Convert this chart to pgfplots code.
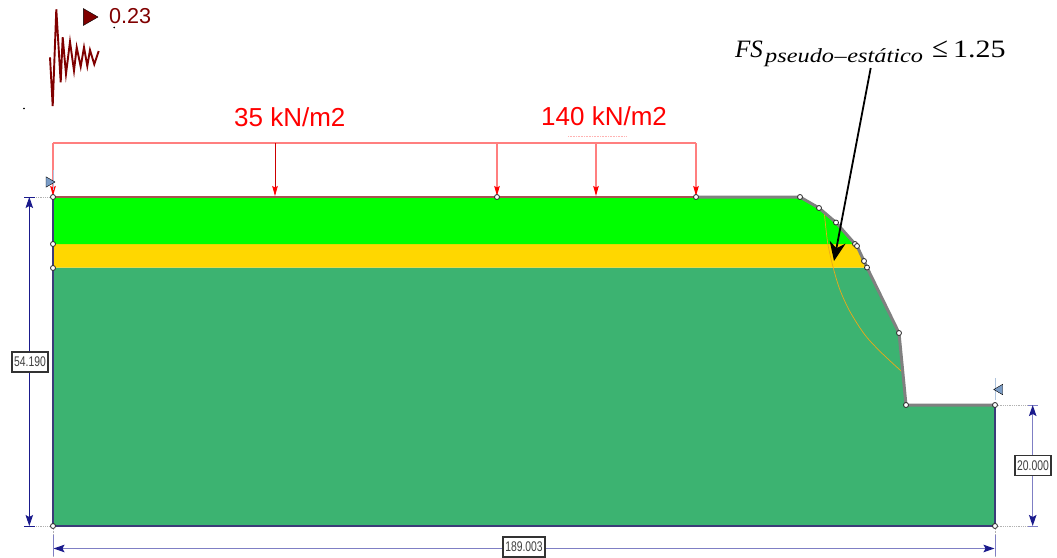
\documentclass[border=0pt]{standalone}
\usepackage{fontspec}
\setmainfont{Liberation Sans}
\newfontfamily\serifmath{Liberation Serif}
\usepackage{pgfplots}
\pgfplotsset{compat=1.18}
\usetikzlibrary{arrows.meta}
\definecolor{sgreen}{HTML}{3CB371}
\definecolor{lgreen}{HTML}{00FF00}
\definecolor{lyellow}{HTML}{FFD700}
\definecolor{dred}{HTML}{800000}
\definecolor{slate}{HTML}{808080}
\definecolor{navy1}{HTML}{1A1A8C}
\definecolor{navy2}{HTML}{7F7FC4}
\definecolor{edge}{HTML}{3B3B78}
\definecolor{tri}{HTML}{7A9CC6}
\definecolor{lred}{HTML}{FF7F7F}
\definecolor{topl}{HTML}{A85050}
\definecolor{slip}{HTML}{EDA818}
\newcommand{\dimtxt}[1]{\fontsize{14}{15}\selectfont\scalebox{0.74}[1]{#1}}
\tikzset{
  dimbox/.style={draw=black!80, line width=1.1pt, fill=white, inner sep=0pt, text=black!75, align=center},
  dimtick/.style={line width=1pt},
  load/.style={lred, line width=1.1pt, -{Stealth[red,length=10pt,width=5.5pt,inset=1.5pt]}},
  dd/.style={densely dotted, black!30, line width=0.8pt},
}
\begin{document}
\begin{tikzpicture}
\useasboundingbox (0,0) rectangle (1057pt,557pt);
\begin{axis}[
  at={(0,0)}, anchor=south west,
  scale only axis, width=1057pt, height=557pt,
  xmin=0, xmax=1057, ymin=0, ymax=557, y dir=reverse,
  hide axis, clip=false,
]
% ground layers
\addplot[fill=sgreen, draw=none] coordinates {(53,267.5)(867,267.5)(899,333)(906,405)(995,405)(995,526)(53,526)} --cycle;
\addplot[fill=lyellow, draw=none] coordinates {(53,244)(855,244)(857,246)(864,261)(867,267.5)(53,267.5)} --cycle;
\addplot[fill=lgreen, draw=none] coordinates {(53,197)(800,197)(819,208)(836,222.5)(855,244)(53,244)} --cycle;
% slip surface
\addplot[slip, line width=0.7pt, smooth] coordinates {(824.3,213)(827.7,243)(833.3,268)(840,290)(850,311.7)(865,335)(881.7,353)(903.3,373)};
% outline
\addplot[edge, line width=2pt] coordinates {(53,197)(53,526)(995,526)(995,405)};
\addplot[slate, line width=3pt] coordinates {(696,197)(800,197)(819,208)(836,222.5)(855,244)(857,246)(864,261)(867,267.5)(899,333)(906,405)(995,405)};
\addplot[topl, line width=2.6pt] coordinates {(53,197)(696,197)};
% distributed loads
\addplot[lred, line width=1.2pt] coordinates {(53,143)(696,143)};
\addplot[load] coordinates {(53,143)(53,196)};
\addplot[load, red!80!black, line width=0.7pt] coordinates {(275,143)(275,196)};
\addplot[load] coordinates {(497,143)(497,196)};
\addplot[load] coordinates {(596,143)(596,196)};
\addplot[load] coordinates {(696,143)(696,196)};
\addplot[lred!60, line width=0.6pt, densely dotted] coordinates {(568,136)(627,136)};
% vertices
\addplot[only marks, mark=*, mark size=2.5pt, mark options={fill=white, draw=black!85, line width=0.8pt}] coordinates {
(53,197)(53,244)(53,268)(497,197)(696,197)(800,197)(819,208)(836,222.5)(855,244)(857,246)(864,261)(867,267.5)(899,333)(906,405)(995,405)(995,526)(53,526)};
% slope limit markers
\addplot[tri!60, line width=0.8pt] coordinates {(53,170)(53,190)};
\addplot[tri!60, line width=0.8pt] coordinates {(995,378)(995,400)};
\addplot[only marks, mark=triangle*, mark size=6pt, mark options={rotate=-90, fill=tri, draw=none}] coordinates {(49,182)};
\addplot[only marks, mark=triangle*, mark size=6pt, mark options={rotate=90, fill=tri, draw=none}] coordinates {(999.7,389.5)};
% dimensions
\addplot[dd] coordinates {(36,197)(53,197)};
\addplot[dd] coordinates {(36,526)(53,526)};
\addplot[dd] coordinates {(996,405)(1028,405)};
\addplot[dd] coordinates {(996,526)(1028,526)};
\addplot[dd] coordinates {(53,527)(53,557)};
\addplot[dd] coordinates {(995,527)(995,557)};
\addplot[navy1, dimtick] coordinates {(24,197)(35,197)};
\addplot[navy1, dimtick] coordinates {(24,526)(35,526)};
\addplot[navy1, line width=0.9pt, {Stealth[navy1,length=11pt,width=7.5pt,inset=2pt]}-{Stealth[navy1,length=11pt,width=7.5pt,inset=2pt]}] coordinates {(29.3,197)(29.3,526)};
\addplot[navy2, dimtick] coordinates {(1028,405)(1038,405)};
\addplot[navy2, dimtick] coordinates {(1028,526)(1038,526)};
\addplot[navy2, line width=1.2pt, {Stealth[navy1,length=11pt,width=7.5pt,inset=2pt]}-{Stealth[navy1,length=11pt,width=7.5pt,inset=2pt]}] coordinates {(1032.7,405)(1032.7,526)};
\addplot[navy2, line width=1.2pt, {Stealth[navy1,length=11pt,width=7.5pt,inset=2pt]}-{Stealth[navy1,length=11pt,width=7.5pt,inset=2pt]}] coordinates {(53.5,548.5)(994.5,548.5)};
\addplot[navy2, line width=0.9pt] coordinates {(995,535)(995,556)};
\addplot[navy2, line width=0.9pt] coordinates {(53,535)(53,556)};
\node[dimbox, minimum width=36pt, minimum height=20pt] at (axis cs:30,362) {\dimtxt{54.190}};
\node[dimbox, minimum width=36pt, minimum height=20pt] at (axis cs:1033,465.5) {\dimtxt{20.000}};
\node[dimbox, minimum width=42pt, minimum height=20pt] at (axis cs:524,547) {\dimtxt{189.003}};
% seismic
\addplot[dred, line width=1.9pt, line join=miter] coordinates {(50,57.3)(52.7,106)(56.3,9.3)(60.7,82.3)(62.7,37.3)(66,74)(70,41.7)(74,70.7)(76.7,47.3)(80.7,66.7)(84,47.3)(87.3,66)(90,50)(94.3,64.3)(98.7,51)};
\addplot[only marks, mark=triangle*, mark size=9.8pt, mark options={rotate=-90, fill=dred, draw=none}] coordinates {(88.2,17)};
\addplot[only marks, mark=*, mark size=0.6pt, mark options={fill=black, draw=none}] coordinates {(114.3,27.5)(24,108.5)};
\node[anchor=base west, inner sep=0pt, text=dred, font=\fontsize{21.6}{24}\selectfont] at (axis cs:109,23.5) {0.23};
% load labels
\node[anchor=base west, inner sep=0pt, text=red, font=\fontsize{26}{30}\selectfont] at (axis cs:234,126) {35 kN/m2};
\node[anchor=base west, inner sep=0pt, text=red, font=\fontsize{26}{30}\selectfont] at (axis cs:541,125) {140 kN/m2};
% factor of safety
\node[anchor=base west, inner sep=0pt, font=\serifmath\fontsize{25}{27}\selectfont\itshape] at (axis cs:735,57) {FS};
\node[anchor=base west, inner sep=0pt, font=\serifmath\fontsize{20}{22}\selectfont] at (axis cs:765,62.5) {\scalebox{1.215}[1]{\itshape pseudo\kern0.5pt\textendash\kern0.5pt estático}};
\node[anchor=base west, inner sep=0pt, font=\serifmath\fontsize{29}{31}\selectfont] at (axis cs:932,57) {≤};
\node[anchor=base west, inner sep=0pt, font=\serifmath\fontsize{25}{27}\selectfont] at (axis cs:953,57) {\scalebox{1.2}[1]{1.25}};
\addplot[black, line width=1.8pt, -{Stealth[black,length=19pt,width=16pt,inset=6pt]}] coordinates {(870.7,68)(834,261)};
\end{axis}
\end{tikzpicture}
\end{document}
